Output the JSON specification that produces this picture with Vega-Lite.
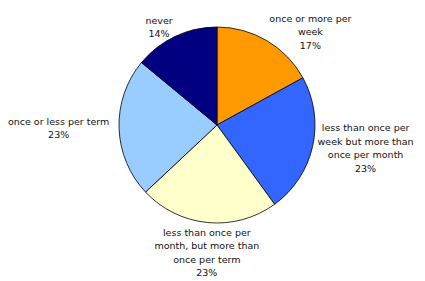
{
  "$schema": "https://vega.github.io/schema/vega-lite/v6.json",
  "autosize": "none",
  "width": 416,
  "height": 250,
  "padding": {"left": 9, "top": 0, "right": 0, "bottom": 31},
  "background": "white",
  "data": {
    "values": [
      {"rank": 1, "category": "once or more per week", "label": "once or more per\nweek\n17%", "pct": 17},
      {"rank": 2, "category": "less than once per week but more than once per month", "label": "less than once per\nweek but more than\nonce per month\n23%", "pct": 23},
      {"rank": 3, "category": "less than once per month, but more than once per term", "label": "less than once per\nmonth, but more than\nonce per term\n23%", "pct": 23},
      {"rank": 4, "category": "once or less per term", "label": "once or less per term\n23%", "pct": 23},
      {"rank": 5, "category": "never", "label": "never\n14%", "pct": 14}
    ]
  },
  "encoding": {
    "theta": {"field": "pct", "type": "quantitative", "stack": true},
    "order": {"field": "rank", "type": "quantitative"}
  },
  "layer": [
    {
      "mark": {"type": "arc", "outerRadius": 98, "stroke": "black", "strokeWidth": 0.8},
      "encoding": {
        "color": {
          "field": "category",
          "type": "nominal",
          "sort": null,
          "legend": null,
          "scale": {
            "domain": ["once or more per week", "less than once per week but more than once per month", "less than once per month, but more than once per term", "once or less per term", "never"],
            "range": ["#FF9900", "#3366FF", "#FFFFCC", "#99CCFF", "#000080"]
          }
        }
      }
    },
    {
      "mark": {
        "type": "text",
        "radius": 108,
        "font": "DejaVu Sans",
        "fontSize": 9.5,
        "lineHeight": 13.5,
        "lineBreak": "\n",
        "color": "#111111",
        "align": "center",
        "baseline": "middle",
        "dx": {"expr": "abs(sin((datum.pct_start + datum.pct_end) / 100 * PI)) > 0.4 ? (sin((datum.pct_start + datum.pct_end) / 100 * PI) > 0 ? 1 : -1) * 2.4 * max(length(split(datum.label, '\\n')[0]), length(split(datum.label, '\\n')[1] || ''), length(split(datum.label, '\\n')[2] || ''), length(split(datum.label, '\\n')[3] || '')) : 0"},
        "dy": {"expr": "abs(sin((datum.pct_start + datum.pct_end) / 100 * PI)) > 0.4 ? -(length(split(datum.label, '\\n')) - 1) * 6.75 : (cos((datum.pct_start + datum.pct_end) / 100 * PI) > 0 ? -(length(split(datum.label, '\\n')) - 1) * 13.5 : 0)"}
      },
      "encoding": {
        "text": {"field": "label", "type": "nominal"}
      }
    }
  ]
}
